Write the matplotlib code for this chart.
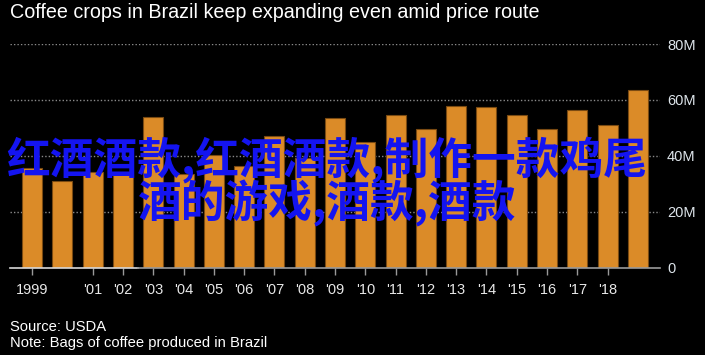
import matplotlib
matplotlib.use("Agg")
import matplotlib.pyplot as plt

years = list(range(1999, 2020))
bags = [35.8, 31.0, 34.1, 34.0, 53.8, 33.4, 40.4, 36.3, 47.0, 39.3, 53.4,
        45.0, 54.5, 49.5, 57.7, 57.4, 54.5, 49.5, 56.3, 50.9, 63.4]   # 百万袋
tick_years = [1999] + list(range(2001, 2019))
tick_labels = ["1999"] + ["'%02d" % (y % 100) for y in range(2001, 2019)]
y_ticks = [0, 20, 40, 60, 80]
y_labels = ["0", "20M", "40M", "60M", "80M"]

title = "Coffee crops in Brazil keep expanding even amid price route"
source = "Source: USDA"
note = "Note: Bags of coffee produced in Brazil"
overlay = "红酒酒款,红酒酒款,制作一款鸡尾\n酒的游戏,酒款,酒款"

narrow = ["Liberation Sans", "DejaVu Sans"]

fig = plt.figure(figsize=(7.05, 3.55), dpi=100, facecolor="black")
ax = fig.add_axes([10 / 705, 1 - 267.7 / 355, 650 / 705, (267.7 - 44) / 355])
ax.set_facecolor("black")

ax.bar(years, bags, width=0.66, color="#db8b28", edgecolor="#7a4a12",
       linewidth=0.8, zorder=2)

ax.set_xlim(1998.27, 2019.73)
ax.set_ylim(0, 80)
for s in ["top", "left", "right", "bottom"]:
    ax.spines[s].set_visible(False)

# 网格线
for v in y_ticks[1:]:
    ax.axhline(v, color="#8a8a8a", linestyle=(0, (1, 1.5)), linewidth=1, zorder=1)
# 底部轴线（左边一段更亮）
ax.plot([1998.27, 2002.5], [0, 0], color="#d8d8d8", linewidth=1.2, zorder=3,
        clip_on=False)
ax.plot([2002.5, 2019.73], [0, 0], color="#9a9a9a", linewidth=1.2, zorder=3,
        clip_on=False)

ax.set_xticks(tick_years)
ax.set_xticklabels(tick_labels, family=narrow, fontsize=10.5, color="#e8e8e8")
ax.tick_params(axis="x", length=5, color="#9a9a9a", width=1, pad=6)

ax.yaxis.tick_right()
ax.set_yticks(y_ticks)
ax.set_yticklabels(y_labels, family=narrow, fontsize=10.5, color="#dde4ea")
ax.tick_params(axis="y", length=0, pad=5)

fig.text(10 / 705, 1 - 13 / 355, title, family=narrow, fontsize=14.2,
         color="white", va="center", ha="left")
fig.text(10 / 705, 1 - 327 / 355, source, family=narrow, fontsize=10.6,
         color="white", va="center", ha="left")
fig.text(10 / 705, 1 - 343 / 355, note, family=narrow, fontsize=10.6,
         color="white", va="center", ha="left")

fig.text(327 / 705, 1 - 182 / 355, overlay, family=["Noto Sans CJK SC", "DejaVu Sans"],
         fontsize=31.5, fontweight="bold", color="#1414f0", ha="center", va="center",
         linespacing=0.92, multialignment="center")

fig.savefig("out.png", dpi=100, facecolor="black")
